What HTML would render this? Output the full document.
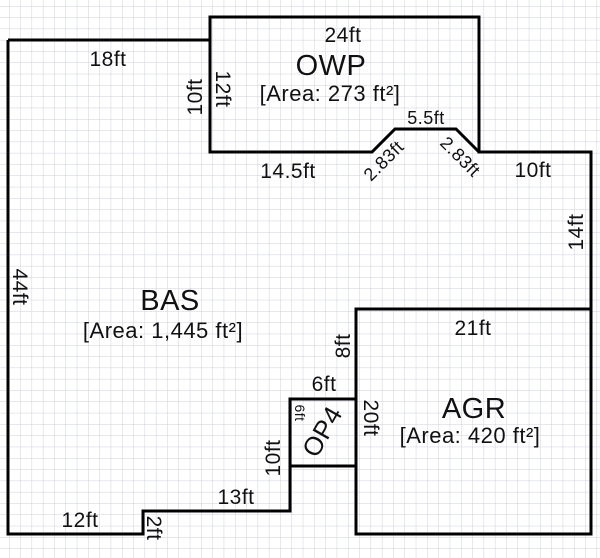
<!DOCTYPE html>
<html><head><meta charset="utf-8"><style>
html,body{margin:0;padding:0;background:#fff;}
svg{display:block;}
text{font-family:"Liberation Sans",Arial,sans-serif;fill:#111;}
</style></head><body>
<svg width="600" height="558" viewBox="0 0 600 558" xmlns="http://www.w3.org/2000/svg">
<defs>
<pattern id="g" x="9" y="6" width="11.3" height="11.3" patternUnits="userSpaceOnUse">
<path d="M0 0H11.3M0 0V11.3" stroke="#cdd0dc" stroke-width="1" fill="none"/>
</pattern>
</defs>
<rect width="600" height="558" fill="#fff"/>
<rect width="600" height="558" fill="url(#g)"/>
<g fill="none" stroke="#000" stroke-width="3" stroke-linejoin="miter">
<path d="M8 40H210V17H479V152H591V309"/>
<path d="M210 40V152H372L395 129H456L479 152"/>
<path d="M8 40V534H143V511H290V399H356"/>
<path d="M290 466H356"/>
<rect x="356" y="309" width="235" height="225"/>
</g>
<g font-size="21" text-anchor="middle" style="letter-spacing:0.5px">
<text x="108" y="66">18ft</text>
<text x="343" y="42">24ft</text>
<text x="288" y="178">14.5ft</text>
<text x="426" y="124" font-size="18">5.5ft</text>
<text x="533" y="177">10ft</text>
<text x="473" y="335">21ft</text>
<text x="324" y="391">6ft</text>
<text x="236" y="504">13ft</text>
<text x="80" y="527">12ft</text>
<text x="331" y="75" font-size="29">OWP</text>
<text x="330" y="101" font-size="22">[Area: 273 ft²]</text>
<text x="170" y="310" font-size="29">BAS</text>
<text x="163" y="338" font-size="22">[Area: 1,445 ft²]</text>
<text x="474" y="418" font-size="29">AGR</text>
<text x="470" y="443" font-size="22">[Area: 420 ft²]</text>
<text transform="translate(202,97) rotate(-90)">10ft</text>
<text transform="translate(216,89) rotate(90)">12ft</text>
<text transform="translate(13,287) rotate(90)">44ft</text>
<text transform="translate(583,232) rotate(-90)">14ft</text>
<text transform="translate(350,346) rotate(-90)">8ft</text>
<text transform="translate(364,418) rotate(90)">20ft</text>
<text transform="translate(280,458) rotate(-90)">10ft</text>
<text transform="translate(295,413) rotate(90)" font-size="14">6ft</text>
<text transform="translate(147,528) rotate(90)">2ft</text>
<text transform="translate(330,436) rotate(-60)" font-size="26">OP4</text>
<text transform="translate(388,165) rotate(-45)" font-size="18">2.83ft</text>
<text transform="translate(456,161) rotate(45)" font-size="18">2.83ft</text>
</g>
</svg>
</body></html>
